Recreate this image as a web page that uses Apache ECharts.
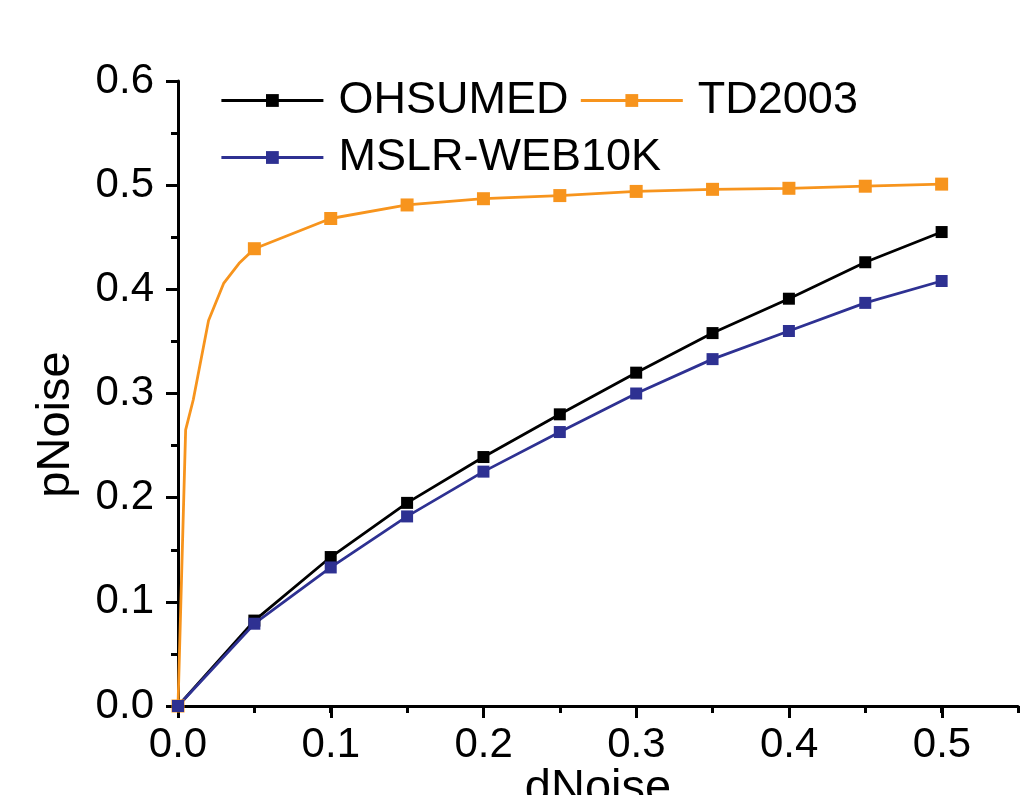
<!DOCTYPE html>
<html>
<head>
<meta charset="utf-8">
<script src="https://cdn.jsdelivr.net/npm/echarts@6/dist/echarts.min.js"></script>
<style>
html,body{margin:0;padding:0;background:#fff;}
#c{width:1025px;height:795px;}
</style>
</head>
<body>
<div id="c"></div>
<script>
// ---- data ----
var xValues = [0, 0.05, 0.1, 0.15, 0.2, 0.25, 0.3, 0.35, 0.4, 0.45, 0.5];
var ohsumed = [0, 0.082, 0.143, 0.195, 0.239, 0.280, 0.320, 0.358, 0.391, 0.426, 0.455];
var mslr    = [0, 0.079, 0.133, 0.182, 0.225, 0.263, 0.300, 0.333, 0.360, 0.387, 0.408];
var td2003X = [0, 0.005, 0.01, 0.02, 0.03, 0.04, 0.05, 0.1, 0.15, 0.2, 0.25, 0.3, 0.35, 0.4, 0.45, 0.5];
var td2003Y = [0, 0.265, 0.294, 0.370, 0.406, 0.425, 0.439, 0.468, 0.481, 0.487, 0.490, 0.494, 0.496, 0.497, 0.499, 0.501];
var seriesNames = ['OHSUMED', 'TD2003', 'MSLR-WEB10K'];
var yTickLabels = ['0.0', '0.1', '0.2', '0.3', '0.4', '0.5', '0.6'];
var xTickLabels = ['0.0', '0.1', '0.2', '0.3', '0.4', '0.5'];

function pairs(xs, ys) { return xs.map(function (x, i) { return [x, ys[i]]; }); }
function isStep(x) { return Math.abs(x * 20 - Math.round(x * 20)) < 1e-9; }
var tdData = td2003X.map(function (x, i) {
  return isStep(x) ? { value: [x, td2003Y[i]] } : { value: [x, td2003Y[i]], symbol: 'none' };
});

var FONT = 'Liberation Sans, Arial, Helvetica, sans-serif';
var chart = echarts.init(document.getElementById('c'));
var legendText = { fontSize: 45, fontFamily: FONT, color: '#000', padding: [0, 0, 0, 10] };
var LW = 2.8;
chart.setOption({
  animation: false,
  backgroundColor: '#fff',
  grid: [
    { left: 178, right: 7, top: 81, bottom: 89, containLabel: false, outerBoundsMode: 'none' },
    { left: 178, right: 83, top: 81, bottom: 89, containLabel: false, outerBoundsMode: 'none' }
  ],
  legend: [
    { data: [seriesNames[0], seriesNames[1]], left: 220, top: 78, orient: 'horizontal', padding: 0,
      itemWidth: 102, itemHeight: 16, itemGap: 11, textStyle: legendText, selectedMode: false,
      lineStyle: { width: LW } },
    { data: [seriesNames[2]], left: 220, top: 135, orient: 'horizontal', padding: 0,
      itemWidth: 102, itemHeight: 16, itemGap: 11, textStyle: legendText, selectedMode: false,
      lineStyle: { width: LW } }
  ],
  xAxis: [
    { type: 'value', gridIndex: 0, min: 0, max: 0.55, interval: 0.05,
      name: 'dNoise', nameLocation: 'middle', nameGap: 60,
      nameTextStyle: { fontSize: 47, fontFamily: FONT, color: '#000' },
      axisLine: { show: true, onZero: false, lineStyle: { color: '#000', width: 3 } },
      axisTick: { show: true, inside: false, length: 7, lineStyle: { color: '#000', width: 3 } },
      axisLabel: { show: false },
      splitLine: { show: false } },
    { type: 'value', gridIndex: 1, min: 0, max: 0.5, interval: 0.1,
      axisLine: { show: false },
      axisTick: { show: true, inside: false, length: 12, lineStyle: { color: '#000', width: 3 } },
      axisLabel: { show: true, fontSize: 42, fontFamily: FONT, color: '#000', margin: 18,
        formatter: function (v) { return xTickLabels[Math.round(v * 10)]; } },
      splitLine: { show: false } }
  ],
  yAxis: [
    { type: 'value', gridIndex: 0, min: 0, max: 0.6, interval: 0.1,
      name: 'pNoise', nameLocation: 'middle', nameGap: 98,
      nameTextStyle: { fontSize: 47, fontFamily: FONT, color: '#000', padding: [0, 62, 0, 0] },
      axisLine: { show: true, onZero: false, lineStyle: { color: '#000', width: 3 } },
      axisTick: { show: true, inside: false, length: 12, lineStyle: { color: '#000', width: 3 } },
      minorTick: { show: true, splitNumber: 2, length: 7, lineStyle: { color: '#000', width: 3 } },
      axisLabel: { show: true, fontSize: 42, fontFamily: FONT, color: '#000', margin: 24,
        formatter: function (v) { return yTickLabels[Math.round(v * 10)]; } },
      splitLine: { show: false }, minorSplitLine: { show: false } },
    { type: 'value', gridIndex: 1, min: 0, max: 0.6, show: false }
  ],
  series: [
    { name: seriesNames[0], type: 'line', xAxisIndex: 0, yAxisIndex: 0,
      data: pairs(xValues, ohsumed), symbol: 'rect', symbolSize: 12, showSymbol: true,
      color: '#000000', lineStyle: { width: LW, color: '#000000' }, itemStyle: { color: '#000000' } },
    { name: seriesNames[1], type: 'line', xAxisIndex: 0, yAxisIndex: 0,
      data: tdData, symbol: 'rect', symbolSize: 13, showSymbol: true,
      color: '#F7941D', lineStyle: { width: LW, color: '#F7941D' }, itemStyle: { color: '#F7941D' } },
    { name: seriesNames[2], type: 'line', xAxisIndex: 0, yAxisIndex: 0,
      data: pairs(xValues, mslr), symbol: 'rect', symbolSize: 12, showSymbol: true,
      color: '#2E3192', lineStyle: { width: LW, color: '#2E3192' }, itemStyle: { color: '#2E3192' } }
  ]
});
</script>
</body>
</html>
